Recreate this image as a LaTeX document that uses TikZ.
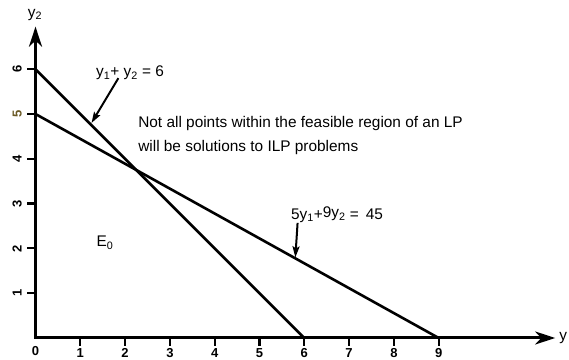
\documentclass[tikz,border=0pt]{standalone}
\usepackage{fontspec}
\setmainfont{Liberation Sans}
\usetikzlibrary{arrows.meta}
\definecolor{olivefive}{RGB}{107,90,38}
\begin{document}
\begin{tikzpicture}[x=44.8pt,y=44.8pt,
  axisline/.style={line width=3pt, line join=miter, {Stealth[length=20pt,width=13pt,inset=6pt]}-{Stealth[length=20pt,width=13pt,inset=6pt]}},
  conline/.style={line width=2.6pt},
  pointer/.style={line width=2pt, -{Stealth[length=11pt,width=7pt,inset=2pt]}},
  tickline/.style={line width=2.2pt},
  ticklab/.style={font=\fontsize{13}{13}\selectfont\bfseries, inner sep=0pt},
  lab/.style={font=\fontsize{15.4}{24}\selectfont, inner sep=0pt}]
\useasboundingbox (-0.7924,-0.4911) rectangle (11.9085,7.5446);
% axes
\coordinate (O) at (0,0);
\coordinate (xend) at (11.6,0);
\coordinate (yend) at (0,6.95);
\draw[axisline] (yend) -- (O) -- (xend);
\node[lab] (ylab) at (-0.01,7.22) {y\textsubscript{2}};
\node[lab] (xlab) at (11.78,0.0) {y};
% ticks
\foreach \i in {1,...,9} {
  \draw[tickline] (\i,0) -- (\i,-0.18);
  \node[ticklab] (xt\i) at (\i,-0.345) {\i};
}
\node[ticklab] (xt0) at (0,-0.29) {0};
\foreach \j in {1,2,3,4,6} {
  \draw[tickline] (0,\j) -- (-0.2,\j);
  \node[ticklab, rotate=90] (yt\j) at (-0.41,\j) {\j};
}
\draw[tickline] (0,5) -- (-0.2,5);
\node[ticklab, rotate=90, text=olivefive] (yt5) at (-0.41,5) {5};
% constraint lines
\coordinate (a6) at (0,6);
\coordinate (b6) at (6,0);
\coordinate (a5) at (0,5);
\coordinate (b9) at (9,0);
\draw[conline] (a6) -- (b6);
\draw[conline] (a5) -- (b9);
% labels
\node[lab] (c1) at (2.11,5.915) {y\textsubscript{1}+ y\textsubscript{2} = 6};
\coordinate (p1s) at (1.85,5.80);
\coordinate (p1e) at (1.25,4.80);
\draw[pointer] (p1s) -- (p1e);
\node[lab] (c2) at (6.73,2.75) {5y\textsubscript{1}+\raisebox{1.5pt}{9y\textsubscript{2}} = \,45};
\coordinate (p2s) at (5.85,2.57);
\coordinate (p2e) at (5.80,1.80);
\draw[pointer] (p2s) -- (p2e);
\node[lab, anchor=west, align=left] (note) at (2.29,4.53) {Not all points within the feasible region of an LP\\will be solutions to ILP problems};
\node[lab] (E0) at (1.55,2.12) {E\textsubscript{0}};
\end{tikzpicture}
\end{document}
